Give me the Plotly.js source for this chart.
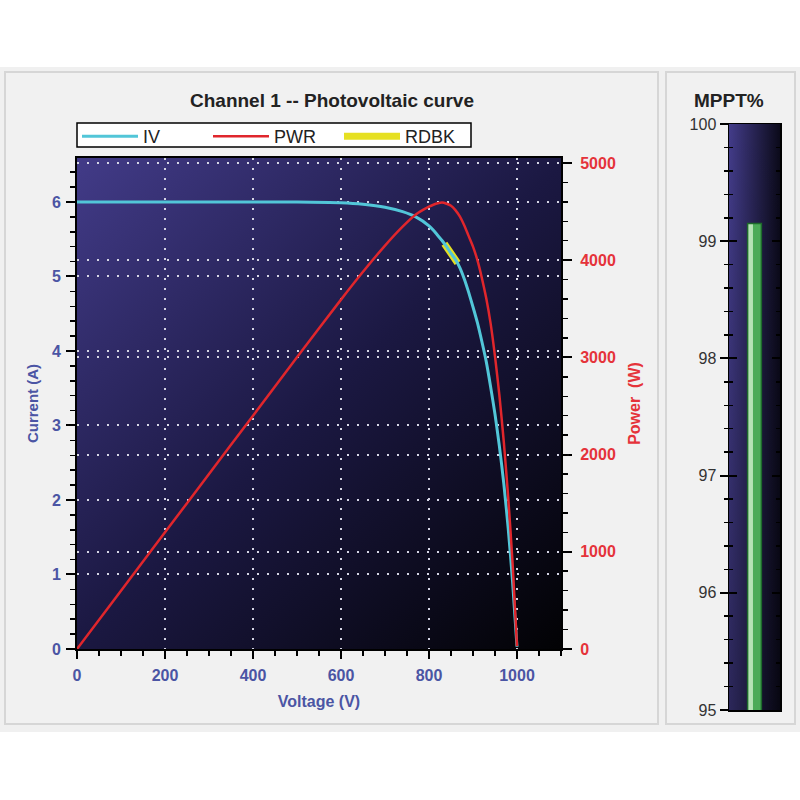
<!DOCTYPE html>
<html>
<head>
<meta charset="utf-8">
<script src="https://cdn.plot.ly/plotly-3.0.1.min.js"></script>
<style>
  html, body { margin: 0; padding: 0; background: #ffffff; }
  #chart { width: 800px; height: 800px; }
</style>
</head>
<body>
<div id="chart"></div>
<script>
// values
const voltage = [0, 100, 200, 300, 400, 500, 600, 650, 700, 740, 770, 800, 810, 820, 830, 840, 850, 860, 870, 880, 890, 900, 910, 920, 930, 940, 950, 960, 970, 980, 990, 1000]
const current = [6.00, 6.00, 6.00, 6.00, 6.00, 6.00, 5.99, 5.97, 5.93, 5.87, 5.80, 5.68, 5.62, 5.55, 5.48, 5.40, 5.31, 5.23, 5.12, 4.97, 4.79, 4.59, 4.38, 4.13, 3.86, 3.52, 3.15, 2.72, 2.22, 1.62, 0.90, 0.03]
const power = [0, 600, 1200, 1800, 2400, 3000, 3594, 3880, 4150, 4345, 4470, 4550, 4570, 4585, 4592, 4580, 4560, 4515, 4450, 4360, 4250, 4140, 4000, 3820, 3610, 3350, 3010, 2610, 2130, 1560, 880, 30]
const rdbkVoltage = [835, 850, 865]
const rdbkCurrent = [5.44, 5.31, 5.18]
const mpptLabel = ['MPPT%']
const mpptValue = [99.15]

const FONT = 'Liberation Sans, Arial, sans-serif'
const BLUE = '#4b55a4'
const RED = '#e5333a'

// pixel -> paper helpers (margins are 0, so paper == whole figure)
const px = x => x / 800
const py = y => 1 - y / 800

function gradientImage (w, h, paint) {
  const canvas = document.createElement('canvas')
  canvas.width = w
  canvas.height = h
  paint(canvas.getContext('2d'), w, h)
  return canvas.toDataURL()
}

const plotBg = gradientImage(484, 491, (ctx, w, h) => {
  const g = ctx.createLinearGradient(0, 0, w, h)
  g.addColorStop(0, '#423b88')
  g.addColorStop(0.5, '#1b1842')
  g.addColorStop(1, '#020204')
  ctx.fillStyle = g
  ctx.fillRect(0, 0, w, h)
})

const gaugeBg = gradientImage(51, 586, (ctx, w, h) => {
  const g = ctx.createLinearGradient(0, 0, w, 0)
  g.addColorStop(0, '#433c8a')
  g.addColorStop(1, '#0b0a1a')
  ctx.fillStyle = g
  ctx.fillRect(0, 0, w, h)
  const v = ctx.createLinearGradient(0, 0, 0, h)
  v.addColorStop(0, 'rgba(0,0,0,0)')
  v.addColorStop(1, 'rgba(0,0,0,0.35)')
  ctx.fillStyle = v
  ctx.fillRect(0, 0, w, h)
})

const data = [
  {
    x: voltage, y: power, name: 'PWR', type: 'scatter', mode: 'lines',
    yaxis: 'y2', legendrank: 2,
    line: { color: '#e0262c', width: 2.5, shape: 'spline', smoothing: 0.6 },
  },
  {
    x: rdbkVoltage, y: rdbkCurrent, name: 'RDBK', type: 'scatter', mode: 'lines',
    legendrank: 3,
    line: { color: '#e6e022', width: 7 },
  },
  {
    x: voltage, y: current, name: 'IV', type: 'scatter', mode: 'lines',
    legendrank: 1,
    line: { color: '#52c6d8', width: 3, shape: 'spline', smoothing: 0.6 },
  },
  {
    x: mpptLabel, y: mpptValue, type: 'bar', xaxis: 'x3', yaxis: 'y3',
    width: 0.27, showlegend: false,
    marker: { color: '#4cab58', line: { width: 0 } },
  },
  {
    x: mpptLabel, y: mpptValue, type: 'bar', xaxis: 'x3', yaxis: 'y3',
    width: 0.1, offset: -0.13, showlegend: false,
    marker: { color: '#b6e3b6', line: { width: 0 } },
  },
  {
    x: mpptLabel, y: mpptValue, type: 'bar', xaxis: 'x3', yaxis: 'y4',
    width: 0.27, showlegend: false,
    marker: { color: 'rgba(0,0,0,0)', line: { color: '#1d6a2b', width: 1.5 } },
  },
]

const dotted = { showgrid: true, gridcolor: '#d4d4e4', gridwidth: 2, griddash: '2px,8px' }

const layout = {
  width: 800,
  height: 800,
  margin: { l: 0, r: 0, t: 0, b: 0 },
  paper_bgcolor: '#ffffff',
  plot_bgcolor: 'rgba(0,0,0,0)',
  font: { family: FONT, size: 16, color: '#222222' },
  barmode: 'overlay',
  hovermode: false,
  title: {
    text: 'Channel 1 -- Photovoltaic curve',
    x: px(332), y: py(100), xref: 'paper', yref: 'paper',
    xanchor: 'center', yanchor: 'middle',
    font: { family: FONT, size: 19, weight: 'bold', color: '#222222' },
  },
  legend: {
    orientation: 'h',
    x: px(77), y: py(118), xanchor: 'left', yanchor: 'top',
    bgcolor: 'rgba(0,0,0,0)',
    borderwidth: 0,
    itemwidth: 56,
    entrywidth: 60,
    font: { family: FONT, size: 18, color: '#222222' },
  },
  xaxis: {
    domain: [px(77), px(561)], anchor: 'y',
    range: [0, 1100], tickmode: 'linear', tick0: 0, dtick: 200,
    ticks: 'outside', ticklen: 8, tickwidth: 2, tickcolor: '#000',
    minor: { tickmode: 'linear', tick0: 0, dtick: 50, ticks: 'outside', ticklen: 5, tickwidth: 1.5, tickcolor: '#000', showgrid: false },
    showline: true, linecolor: '#000', linewidth: 2, mirror: true,
    zeroline: false, ...dotted,
    ticklabelstandoff: 3,
    tickfont: { family: FONT, size: 16, color: BLUE, weight: 'bold' },
    title: { text: 'Voltage (V)', standoff: 13, font: { family: FONT, size: 16, color: BLUE, weight: 'bold' } },
    fixedrange: true,
  },
  yaxis: {
    domain: [py(649), py(158)], anchor: 'x',
    range: [0, 6.59], tickmode: 'linear', tick0: 0, dtick: 1,
    ticks: 'outside', ticklen: 9, tickwidth: 2, tickcolor: '#000',
    minor: { tickmode: 'linear', tick0: 0, dtick: 0.2, ticks: 'outside', ticklen: 5, tickwidth: 1.5, tickcolor: '#000', showgrid: false },
    showline: true, linecolor: '#000', linewidth: 2,
    zeroline: false, ...dotted,
    ticklabelstandoff: 2,
    tickfont: { family: FONT, size: 16, color: BLUE, weight: 'bold' },
    title: { text: 'Current (A)', standoff: 10, font: { family: FONT, size: 15, color: BLUE, weight: 'bold' } },
    fixedrange: true,
  },
  yaxis2: {
    overlaying: 'y', side: 'right', anchor: 'x',
    range: [0, 5051], tickmode: 'linear', tick0: 0, dtick: 1000,
    ticks: 'outside', ticklen: 9, tickwidth: 2, tickcolor: '#000',
    minor: { tickmode: 'linear', tick0: 0, dtick: 200, ticks: 'outside', ticklen: 5, tickwidth: 1.5, tickcolor: '#000', showgrid: false },
    showline: true, linecolor: '#000', linewidth: 2,
    zeroline: false, ...dotted,
    ticklabelstandoff: 5,
    tickfont: { family: FONT, size: 16, color: RED, weight: 'bold' },
    title: { text: 'Power\u00a0\u00a0(W)', standoff: 14, font: { family: FONT, size: 16, color: RED, weight: 'bold' } },
    fixedrange: true,
  },
  xaxis3: {
    domain: [px(729), px(780)], anchor: 'y3',
    type: 'category', range: [-0.5, 0.5],
    showticklabels: false, ticks: '',
    showline: true, linecolor: '#000', linewidth: 1.5, mirror: true,
    showgrid: false, zeroline: false, fixedrange: true,
  },
  yaxis3: {
    domain: [py(710), py(124)], anchor: 'x3',
    range: [95, 100], tickmode: 'linear', tick0: 95, dtick: 1,
    ticks: 'outside', ticklen: 8, tickwidth: 2, tickcolor: '#000',
    minor: { tickmode: 'linear', tick0: 95, dtick: 0.2, ticks: 'outside', ticklen: 4, tickwidth: 1.5, tickcolor: '#000' },
    showline: true, linecolor: '#000', linewidth: 1.5, mirror: true,
    showgrid: false, zeroline: false,
    tickfont: { family: FONT, size: 16, color: '#333333' },
    fixedrange: true,
  },
  yaxis4: {
    overlaying: 'y3', anchor: 'x3',
    range: [95, 100], tickmode: 'linear', tick0: 95, dtick: 1,
    ticks: 'inside', ticklen: 8, tickwidth: 2, tickcolor: '#000',
    minor: { tickmode: 'linear', tick0: 95, dtick: 0.2, ticks: 'inside', ticklen: 4, tickwidth: 1.5, tickcolor: '#000' },
    mirror: 'ticks', showline: false, showticklabels: false,
    showgrid: false, zeroline: false, fixedrange: true,
  },
  images: [
    {
      source: plotBg, xref: 'x', yref: 'y', x: 0, y: 6.59, sizex: 1100, sizey: 6.59,
      xanchor: 'left', yanchor: 'top', sizing: 'stretch', layer: 'below',
    },
    {
      source: gaugeBg, xref: 'x3', yref: 'y3', x: -0.5, y: 100, sizex: 1, sizey: 5,
      xanchor: 'left', yanchor: 'top', sizing: 'stretch', layer: 'below',
    },
  ],
  shapes: [
    { type: 'rect', xref: 'paper', yref: 'paper', x0: 0, x1: 1, y0: py(732), y1: py(67), fillcolor: '#f0f0f0', line: { width: 0 }, layer: 'below' },
    { type: 'rect', xref: 'paper', yref: 'paper', x0: px(5), x1: px(658), y0: py(724), y1: py(72), fillcolor: '#f1f1f1', line: { color: '#d6d6d6', width: 2 }, layer: 'below' },
    { type: 'rect', xref: 'paper', yref: 'paper', x0: px(666), x1: px(795), y0: py(724), y1: py(72), fillcolor: '#f1f1f1', line: { color: '#d6d6d6', width: 2 }, layer: 'below' },
    { type: 'rect', xref: 'paper', yref: 'paper', x0: px(77), x1: px(471), y0: py(147), y1: py(123), fillcolor: '#ffffff', line: { color: '#000000', width: 1.5 }, layer: 'below' },
  ],
  annotations: [
    {
      text: 'MPPT%', xref: 'paper', yref: 'paper', x: px(729), y: py(100),
      xanchor: 'center', yanchor: 'middle', showarrow: false,
      font: { family: FONT, size: 19, weight: 'bold', color: '#222222' },
    },
  ],
}

Plotly.newPlot('chart', data, layout, { staticPlot: true, displayModeBar: false })
</script>
</body>
</html>
